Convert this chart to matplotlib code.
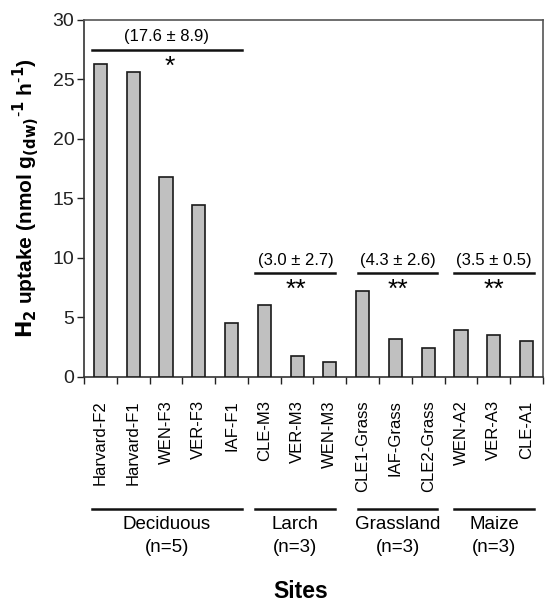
import matplotlib
matplotlib.use("Agg")
import matplotlib.pyplot as plt
import numpy as np
from matplotlib.ticker import FixedLocator

plt.rcParams['font.family'] = ['Liberation Sans', 'DejaVu Sans']

sites = ["Harvard-F2", "Harvard-F1", "WEN-F3", "VER-F3", "IAF-F1",
         "CLE-M3", "VER-M3", "WEN-M3",
         "CLE1-Grass", "IAF-Grass", "CLE2-Grass",
         "WEN-A2", "VER-A3", "CLE-A1"]
uptake = [26.3, 25.6, 16.8, 14.45, 4.55,
          6.06, 1.74, 1.21,
          7.21, 3.17, 2.39,
          3.93, 3.53, 3.0]
groups = ["Deciduous", "Larch", "Grassland", "Maize"]
group_n = ["(n=5)", "(n=3)", "(n=3)", "(n=3)"]
group_sizes = [5, 3, 3, 3]
group_stats = ["(17.6 ± 8.9)", "(3.0 ± 2.7)", "(4.3 ± 2.6)", "(3.5 ± 0.5)"]
group_sig = ["*", "**", "**", "**"]

fig = plt.figure(figsize=(5.45, 6.04), dpi=100)
ax = fig.add_axes([0.1541, 0.3763, 0.8422, 0.5906])

x = np.arange(len(sites))
ax.bar(x, uptake, width=0.4, color="#c0c0c0", edgecolor="#1a1a1a", linewidth=1.2, zorder=3)

ax.set_xlim(-0.5, len(sites) - 0.5)
ax.set_ylim(0, 30)
ax.set_yticks([0, 5, 10, 15, 20, 25, 30])
ax.tick_params(axis='y', labelsize=14, length=5, width=1, direction='out', pad=2, colors='#222222')
ax.set_xticks(x)
ax.set_xticklabels(sites, rotation=90, fontsize=12)
ax.tick_params(axis='x', which='major', length=0, pad=17)
ax.xaxis.set_minor_locator(FixedLocator(np.arange(-0.5, len(sites) + 0.5, 1.0)))
ax.tick_params(axis='x', which='minor', length=5, width=1, direction='out', color='#222222')

for side in ['left', 'bottom']:
    ax.spines[side].set_color('#333333')
    ax.spines[side].set_linewidth(1.2)
for side in ['top', 'right']:
    ax.spines[side].set_color('#555555')
    ax.spines[side].set_linewidth(1.2)

ax.set_ylabel(r"$\mathbf{H_2}$ uptake (nmol g$_{\mathbf{(dw)}}$$^{\mathbf{\text{-}1}}$ h$^{\mathbf{\text{-}1}}$)",
              fontsize=15, fontweight='bold', labelpad=8)

line_l = [-0.27, 4.73, 7.86, 10.79]
line_r = [4.32, 7.17, 10.28, 13.22]
line_y = [27.5, 8.7, 8.7, 8.7]

for i in range(len(groups)):
    l, r = line_l[i], line_r[i]
    mid = (l + r) / 2
    ax.plot([l, r], [line_y[i], line_y[i]], color='#111111', lw=1.8, zorder=4)
    ax.text(mid, line_y[i] + 0.45, group_stats[i], ha='center', va='bottom', fontsize=12)
    ax.text(mid + (0.1 if i == 0 else 0), line_y[i] - 0.4, group_sig[i], ha='center', va='top', fontsize=19)
    # bottom group lines
    ax.plot([l, r], [-0.371, -0.371], color='#111111', lw=1.8,
            transform=ax.get_xaxis_transform(), clip_on=False)
    ax.text(mid, -0.413, groups[i], ha='center', va='center', fontsize=13.5,
            transform=ax.get_xaxis_transform())
    ax.text(mid, -0.480, group_n[i], ha='center', va='center', fontsize=13.5,
            transform=ax.get_xaxis_transform())

fig.text(301 / 545, 1 - 591 / 604, "Sites", ha='center', va='center', fontsize=16.5, fontweight='bold')

fig.savefig("out.png", dpi=100)
